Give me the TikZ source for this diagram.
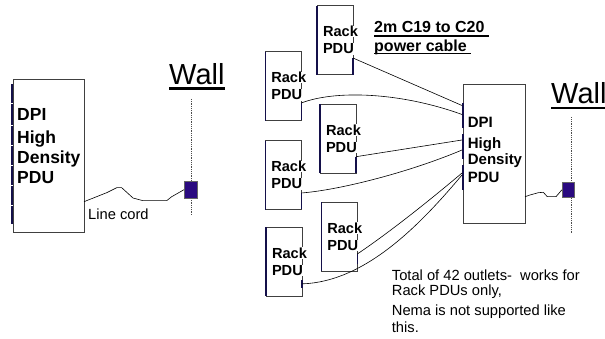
\documentclass[tikz,border=0pt]{standalone}
\usepackage{fontspec}
\setmainfont{Liberation Sans}
\usetikzlibrary{positioning,calc}
\definecolor{barblue}{HTML}{14104A}
\definecolor{plugblue}{HTML}{2A0A80}
\tikzset{
  boxline/.style={draw=black!75, line width=0.7pt},
  portbar/.style={draw=none, fill=barblue, inner sep=0pt, minimum width=2pt, anchor=north},
  plugbox/.style={draw=black!60, line width=0.4pt, fill=plugblue, inner sep=0pt, anchor=north west},
  racktext/.style={fill=white, inner sep=0.5pt, anchor=base west, font=\bfseries\fontsize{14.6}{14.6}\selectfont},
  dpitext/.style={anchor=base west, inner sep=0pt, font=\bfseries},
  walltext/.style={anchor=base west, inner sep=0pt, font=\fontsize{29}{29}\selectfont},
  notetext/.style={anchor=base west, inner sep=0pt, font=\fontsize{14.7}{14.7}\selectfont},
  cable/.style={draw=black, line width=0.6pt},
  underbar/.style={draw=black, line width=1.7pt},
}
\begin{document}
\begin{tikzpicture}[x=1pt, y=-1pt]
  \useasboundingbox (0,0) rectangle (605,339);

  % left PDU
  \draw[boxline] (13,79) rectangle (84,232);
  \coordinate (dpiLout) at (84,201.7);
  \foreach \n/\a/\b in {a/84/102.5,b/104/124.5,c/126/144.5,d/146/164.5,e/166/184.5,f/186/204.5,g/206/224} {
    \node[portbar, minimum height={(\b-\a)*1pt}] (dpiL\n) at (12,\a) {};
  }
  \node[dpitext, font=\bfseries\fontsize{17.5}{17.5}\selectfont] (dpiLone) at (17,120.7) {DPI};
  \node[dpitext, font=\bfseries\fontsize{17.5}{17.5}\selectfont] (dpiLtwo) at (17,144) {High};
  \node[dpitext, font=\bfseries\fontsize{17.5}{17.5}\selectfont] (dpiLthree) at (17,164) {Density};
  \node[dpitext, font=\bfseries\fontsize{17.5}{17.5}\selectfont] (dpiLfour) at (17,184) {PDU};
  \node[notetext] (cordtext) at (88,219) {Line cord};

  % left wall
  \node[walltext] (wallL) at (169,85) {Wall};
  \draw[black, line width=2.7pt] (169,88.5) -- (225,88.5);
  \draw[black!70, densely dotted, line width=0.8pt] (191,99) -- (191,215);
  \node[plugbox, minimum width=13pt, minimum height=17pt] (plugL) at (184,181) {};
  \draw[cable] (dpiLout) -- (106.7,192.7) -- (116.7,187.7) -- (121.7,187.7) -- (133,198) -- (143,200.7) -- (166.7,200.7) -- (171.7,196.7) -- (plugL.west);

  % rack PDUs
  \foreach \n/\x/\y/\pa/\pb in {A/317/5.7/58/74.7,B/265.3/51.7/103/120,C/320/104.3/156.7/173,D/265.3/140.7/193/209,E/321.3/202.3/254/264,F/266/227.3/279.3/288} {
    \draw[boxline] (\x,\y) rectangle (\x+36,\y+69);
    \draw[barblue, line width=1.2pt] (\x,\y) -- (\x,\y+69);
    \node[portbar, minimum width=1.5pt, minimum height={(\pb-\pa)*1pt}] (port\n) at (\x+36,\pa) {};
    \node[racktext] (rack\n one) at (\x+5.3,\y+31) {Rack};
    \node[racktext] (rack\n two) at (\x+5.3,\y+48.3) {PDU};
  }

  % right PDU
  \draw[boxline] (463.3,84) rectangle (525,223.3);
  \coordinate (dpiRout) at (525,196.7);
  \foreach \n/\a/\b in {a/102.7/128,b/134/159.3,c/165/190} {
    \node[portbar, minimum height={(\b-\a)*1pt}] (dpiR\n) at (462.5,\a) {};
  }
  \node[dpitext, font=\bfseries\fontsize{15}{15}\selectfont] (dpiRone) at (467.7,127.7) {DPI};
  \node[dpitext, font=\bfseries\fontsize{15}{15}\selectfont] (dpiRtwo) at (467.7,148.3) {High};
  \node[dpitext, font=\bfseries\fontsize{15}{15}\selectfont] (dpiRthree) at (467.7,165) {Density};
  \node[dpitext, font=\bfseries\fontsize{15}{15}\selectfont] (dpiRfour) at (467.7,182.7) {PDU};

  % cables
  \coordinate (inA) at (462,105.5);
  \coordinate (inB) at (462,114.5);
  \coordinate (inC) at (462,140);
  \coordinate (inD) at (462,150);
  \coordinate (inE) at (462,173);
  \coordinate (inF) at (462,175);
  \draw[cable] (portA.north) -- (inA);
  \draw[cable] (portB.north) .. controls (335,90) and (400,92) .. (inB);
  \draw[cable] (portC.north) -- (inC);
  \draw[cable] (portD.north) .. controls (340,190) and (410,172) .. (inD);
  \draw[cable] (portE.north) .. controls (390,232) and (430,200) .. (inE);
  \draw[cable] (portF.center) .. controls (365,282) and (420,225) .. (inF);

  % right wall
  \node[walltext] (wallR) at (551,104) {Wall};
  \draw[black, line width=2.7pt] (551,108) -- (605,108);
  \draw[black!70, densely dotted, line width=0.8pt] (571.7,117.3) -- (571.7,234);
  \node[plugbox, minimum width=12pt, minimum height=14.4pt] (plugR) at (562,182.3) {};
  \draw[cable] (dpiRout) -- (530,195) -- (538.3,192.7) -- (543.3,192.3) -- (547.3,196.7) -- (556,196.7) -- (plugR.west);

  % notes
  \node[dpitext, font=\bfseries\fontsize{16}{16}\selectfont] (cableone) at (374,32.3) {2m C19 to C20};
  \node[dpitext, font=\bfseries\fontsize{16}{16}\selectfont] (cabletwo) at (374,51.7) {power cable};
  \draw[underbar] (374,35.7) -- (489,35.7);
  \draw[underbar] (374,53.6) -- (470.7,53.6);
  \node[notetext] (noteone) at (391.7,280) {Total of 42 outlets-~ works for};
  \node[notetext] (notetwo) at (391.7,295.7) {Rack PDUs only,};
  \node[notetext] (notethree) at (391.7,315) {Nema is not supported like};
  \node[notetext] (notefour) at (391.7,332.7) {this.};
\end{tikzpicture}
\end{document}
